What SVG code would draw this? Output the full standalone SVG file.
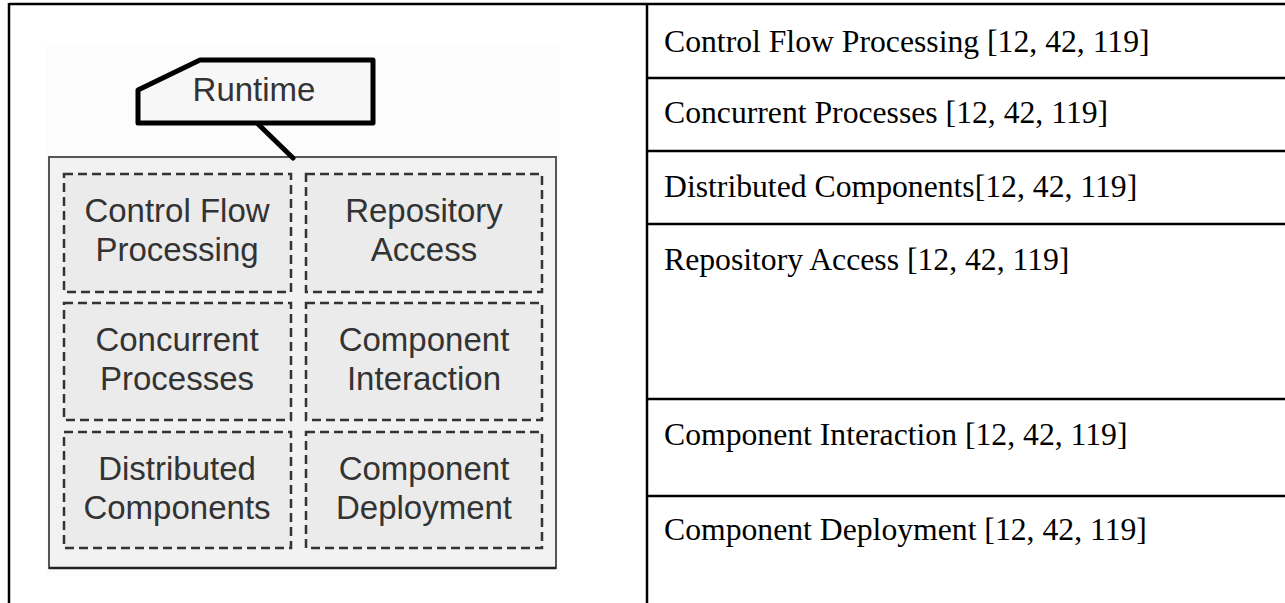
<svg xmlns="http://www.w3.org/2000/svg" width="1285" height="603" viewBox="0 0 1285 603">
<style>
.tbl{stroke:#000;stroke-width:2.5;fill:none}
.cell{font-family:"Liberation Serif","Times New Roman",serif;font-size:31.7px;fill:#000}
.dbox{fill:#ebebeb;stroke:#333;stroke-width:2.5;stroke-dasharray:9 5}
.lbl{font-family:"Liberation Sans",Arial,sans-serif;font-size:33px;fill:#333;text-anchor:middle}
</style>
<rect width="1285" height="603" fill="#fff"/>
<g id="table">
<line class="tbl" x1="9" y1="4" x2="1285" y2="4"/>
<line class="tbl" x1="9" y1="3" x2="9" y2="603"/>
<line class="tbl" x1="647" y1="4" x2="647" y2="603"/>
<line class="tbl" x1="647" y1="78" x2="1285" y2="78"/>
<line class="tbl" x1="647" y1="151" x2="1285" y2="151"/>
<line class="tbl" x1="647" y1="224" x2="1285" y2="224"/>
<line class="tbl" x1="647" y1="399" x2="1285" y2="399"/>
<line class="tbl" x1="647" y1="496" x2="1285" y2="496"/>
</g>
<g id="cells">
<text class="cell" x="664" y="52">Control Flow Processing [12, 42, 119]</text>
<text class="cell" x="664" y="123">Concurrent Processes [12, 42, 119]</text>
<text class="cell" x="664" y="197">Distributed Components[12, 42, 119]</text>
<text class="cell" x="664" y="270">Repository Access [12, 42, 119]</text>
<text class="cell" x="664" y="445">Component Interaction [12, 42, 119]</text>
<text class="cell" x="664" y="540">Component Deployment [12, 42, 119]</text>
</g>
<rect x="46" y="44" width="514" height="532" fill="#fcfcfc"/>
<g id="container">
<rect x="49" y="157" width="507" height="411" fill="#f2f2f2" stroke="#555" stroke-width="2"/>
<line x1="49" y1="568" x2="556" y2="568" stroke="#222" stroke-width="2.5"/>
</g>
<g id="connectors">
<line x1="257" y1="123" x2="293" y2="158" stroke="#000" stroke-width="5" stroke-linecap="round"/>
</g>
<g id="runtime">
<path d="M138 90 L200 60 L373 60 L373 123 L138 123 Z" fill="#f7f7f7" stroke="#000" stroke-width="5" stroke-linejoin="round"/>
<text class="lbl" x="254" y="101">Runtime</text>
</g>
<g id="cfp"><rect class="dbox" x="64" y="174" width="227" height="118"/><text class="lbl" x="177" y="222">Control Flow</text><text class="lbl" x="177" y="261">Processing</text></g>
<g id="ra"><rect class="dbox" x="306" y="174" width="236" height="118"/><text class="lbl" x="424" y="222">Repository</text><text class="lbl" x="424" y="261">Access</text></g>
<g id="cp"><rect class="dbox" x="64" y="303" width="227" height="117"/><text class="lbl" x="177" y="351">Concurrent</text><text class="lbl" x="177" y="390">Processes</text></g>
<g id="ci"><rect class="dbox" x="306" y="303" width="236" height="117"/><text class="lbl" x="424" y="351">Component</text><text class="lbl" x="424" y="390">Interaction</text></g>
<g id="dc"><rect class="dbox" x="64" y="432" width="227" height="116"/><text class="lbl" x="177" y="480">Distributed</text><text class="lbl" x="177" y="519">Components</text></g>
<g id="cd"><rect class="dbox" x="306" y="432" width="236" height="116"/><text class="lbl" x="424" y="480">Component</text><text class="lbl" x="424" y="519">Deployment</text></g>
</svg>
